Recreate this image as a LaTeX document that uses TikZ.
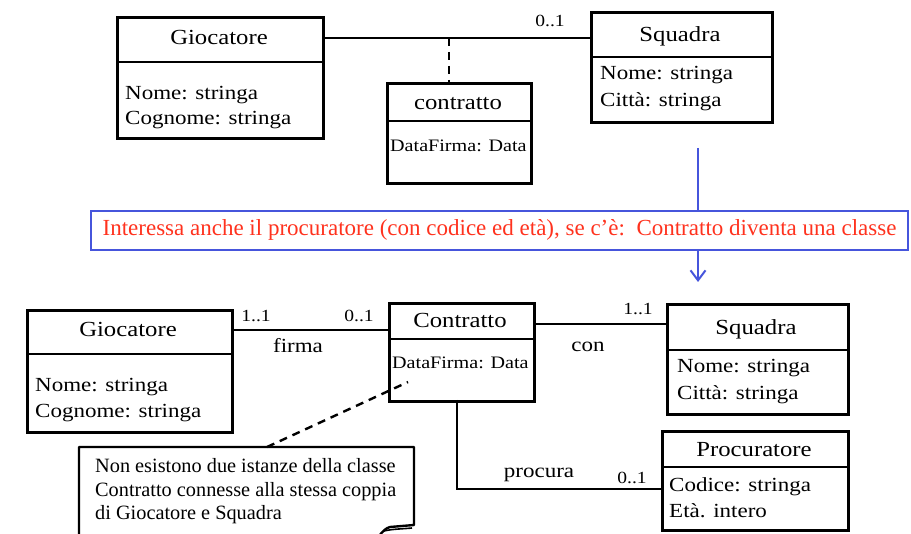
\documentclass[tikz,border=0pt]{standalone}
\usepackage{fontspec}
\setmainfont{Liberation Serif}
\newfontfamily\widefont[FakeStretch=1.15]{Liberation Serif}
\usetikzlibrary{arrows.meta}
\definecolor{bannerblue}{RGB}{70,85,220}
\definecolor{bannerred}{RGB}{255,50,30}
\tikzset{
  classbox/.style={draw, line width=2.6pt, inner sep=0pt, anchor=north west},
  divider/.style={line width=2.6pt},
  assoc/.style={line width=2.4pt},
  dashlink/.style={line width=2.4pt, dash pattern=on 8pt off 6pt},
  ctitle/.style={anchor=base, inner sep=0pt, font=\widefont\fontsize{21.5}{24}\selectfont},
  cattr/.style={anchor=base west, inner sep=0pt, font=\widefont\fontsize{20}{24}\selectfont},
  csmall/.style={anchor=base west, inner sep=0pt, font=\widefont\fontsize{17.5}{20}\selectfont},
  mult/.style={anchor=base, inner sep=0pt, font=\widefont\fontsize{17}{20}\selectfont},
  rolelabel/.style={anchor=base, inner sep=0pt, font=\widefont\fontsize{20}{24}\selectfont},
  notetext/.style={anchor=base west, inner sep=0pt, font=\fontsize{20.3}{24}\selectfont},
}
\begin{document}
\begin{tikzpicture}[x=1pt,y=-1pt]
\useasboundingbox (0,0) rectangle (911,534);
\clip (0,0) rectangle (911,534);

% ---------- top diagram ----------
\node[classbox, minimum width=206pt, minimum height=121pt] (g1) at (116,16) {};
\draw[divider] (116,62) -- (322,62);
\node[ctitle] (g1t) at (219,45) {Giocatore};
\node[cattr] (g1a) at (125,100) {Nome: stringa};
\node[cattr] (g1b) at (125,125) {Cognome: stringa};

\node[classbox, minimum width=181pt, minimum height=110pt] (s1) at (590,11) {};
\draw[divider] (590,57) -- (773,57);
\node[ctitle] (s1t) at (680,42) {Squadra};
\node[cattr] (s1a) at (600,80) {Nome: stringa};
\node[cattr] (s1b) at (600,107) {Città: stringa};

\node[classbox, minimum width=144pt, minimum height=100pt] (c1) at (386,82) {};
\draw[divider] (386,121) -- (530,121);
\node[ctitle] (c1t) at (458,110) {contratto};
\node[csmall] (c1a) at (390,152) {DataFirma: Data};

\coordinate (g1e) at (322,38);
\coordinate (mid1) at (449,38);
\draw[assoc] (g1e) -- (g1e -| s1.west);
\draw[dashlink] (mid1) -- (mid1 |- c1.north);
\node[mult] (m1) at (550,27) {0..1};

% ---------- banner ----------
\node[draw=bannerblue, line width=2pt, minimum width=817pt, minimum height=39pt, inner sep=0pt,
      text=bannerred, font=\fontsize{23}{26}\selectfont] (banner) at (499.5,230.5) {\strut Interessa anche il procuratore (con codice ed età), se c’è:\ \ Contratto diventa una classe};
\coordinate (btop) at (698,148);
\coordinate (bbot) at (698,282);
\draw[bannerblue, line width=2pt] (btop) -- (btop |- banner.north);
\draw[bannerblue, line width=2pt, -{Straight Barb[length=10pt,width=15pt,line width=2pt]}] (btop |- banner.south) -- (bbot);

% ---------- bottom diagram ----------
\node[classbox, minimum width=205pt, minimum height=122pt] (g2) at (26,309) {};
\draw[divider] (26,354) -- (231,354);
\node[ctitle] (g2t) at (128,337) {Giocatore};
\node[cattr] (g2a) at (35,392) {Nome: stringa};
\node[cattr] (g2b) at (35,418) {Cognome: stringa};

\node[classbox, minimum width=145pt, minimum height=98pt] (c2) at (388,302) {};
\draw[divider] (388,339) -- (533,339);
\node[ctitle] (c2t) at (460,328) {Contratto};
\node[csmall] (c2a) at (392,369) {DataFirma: Data};

\node[classbox, minimum width=181pt, minimum height=110pt] (s2) at (666,303) {};
\draw[divider] (666,350) -- (850,350);
\node[ctitle] (s2t) at (756,335) {Squadra};
\node[cattr] (s2a) at (677,373) {Nome: stringa};
\node[cattr] (s2b) at (677,400) {Città: stringa};

\node[classbox, minimum width=186pt, minimum height=99pt] (p2) at (661,430) {};
\draw[divider] (661,467) -- (847,467);
\node[ctitle] (p2t) at (754,457) {Procuratore};
\node[cattr] (p2a) at (669,492) {Codice: stringa};
\node[cattr] (p2b) at (669,518) {Età. intero};

% associations
\coordinate (g2e) at (231,330);
\draw[assoc] (g2e) -- (g2e -| c2.west);
\node[mult] (m2) at (256,322) {1..1};
\node[mult] (m3) at (359,322) {0..1};
\node[rolelabel] (firma) at (298,353) {firma};

\coordinate (c2e) at (533,324);
\draw[assoc] (c2e) -- (c2e -| s2.west);
\node[mult] (m4) at (638,315) {1..1};
\node[rolelabel] (con) at (588,352) {con};

\coordinate (c2b) at (457,400);
\coordinate (pcorner) at (457,489);
\draw[assoc] (c2b) -- (pcorner) -- (pcorner -| p2.west);
\node[rolelabel] (procura) at (539,478) {procura};
\node[mult] (m5) at (632,484) {0..1};

% note
\coordinate (nA) at (79,540);
\coordinate (nB) at (79,447);
\coordinate (nC) at (414,447);
\coordinate (nD) at (414,525);
\coordinate (nE) at (390,527);
\draw[line width=2.4pt, line join=round] (nA) -- (nB) -- (nC) -- (nD) -- (nE)
   .. controls (386,528) and (383,531) .. (379,536);
\draw[line width=1.6pt] (384,531) .. controls (392,529) and (402,529) .. (412,528);
\node[notetext] (n1) at (95,473) {Non esistono due istanze della classe};
\node[notetext] (n2) at (95,497) {Contratto connesse alla stessa coppia};
\node[notetext] (n3) at (95,520) {di Giocatore e Squadra};
\coordinate (ntop) at (267,447);
\coordinate (nend) at (408,382);
\draw[dashlink] (ntop) -- (nend);
\end{tikzpicture}
\end{document}
